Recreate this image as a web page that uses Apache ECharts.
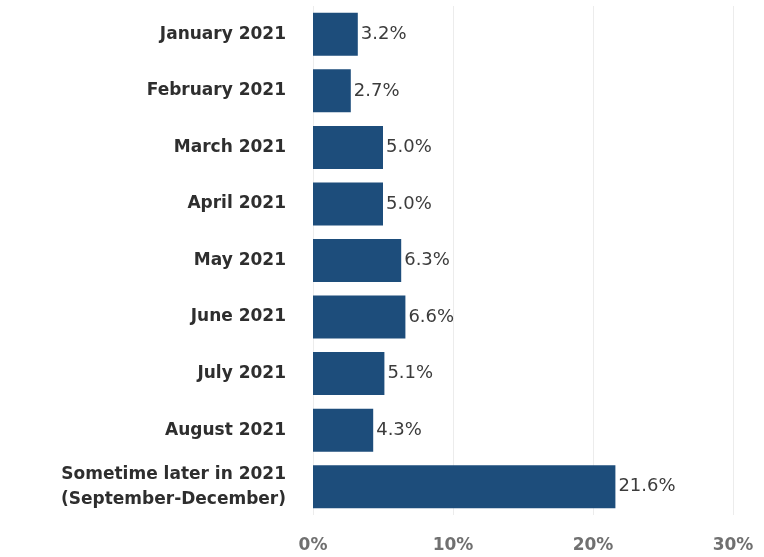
<!DOCTYPE html>
<html>
<head>
<meta charset="utf-8">
<script src="https://cdn.jsdelivr.net/npm/echarts@6/dist/echarts.min.js"></script>
<style>
  html, body { margin: 0; padding: 0; background: #fff; }
  #chart { width: 764px; height: 557px; }
</style>
</head>
<body>
<div id="chart"></div>
<script>
// Month categories, top to bottom
const categories = [
  'January 2021',
  'February 2021',
  'March 2021',
  'April 2021',
  'May 2021',
  'June 2021',
  'July 2021',
  'August 2021',
  'Sometime later in 2021\n(September-December)'
];
// Share of respondents (%)
const values = [3.2, 2.7, 5.0, 5.0, 6.3, 6.6, 5.1, 4.3, 21.6];
// Value axis ticks (%)
const xTicks = [0, 10, 20, 30];

const chart = echarts.init(document.getElementById('chart'));
chart.setOption({
  animation: false,
  grid: { left: 313, right: 31, top: 6, bottom: 42, containLabel: false },
  xAxis: {
    type: 'value',
    min: xTicks[0],
    max: xTicks[xTicks.length - 1],
    interval: 10,
    axisLine: { show: false },
    axisTick: { show: false },
    splitLine: { show: true, lineStyle: { color: '#ececec', width: 1 } },
    axisLabel: {
      formatter: '{value}%',
      color: '#707070',
      fontFamily: 'DejaVu Sans',
      fontSize: 17,
      fontWeight: 'bold',
      margin: 22
    }
  },
  yAxis: {
    type: 'category',
    data: categories,
    inverse: true,
    axisLine: { show: false },
    axisTick: { show: false },
    axisLabel: {
      color: '#2e2e2e',
      fontFamily: 'DejaVu Sans',
      fontSize: 17,
      fontWeight: 'bold',
      margin: 27,
      lineHeight: 25,
      align: 'right'
    }
  },
  series: [{
    type: 'bar',
    data: values,
    barWidth: '76%',
    itemStyle: { color: '#1d4d7b' },
    label: {
      show: true,
      position: 'right',
      distance: 3,
      formatter: p => p.value.toFixed(1) + '%',
      color: '#3c3c3c',
      fontFamily: 'DejaVu Sans',
      fontSize: 18
    }
  }]
});
</script>
</body>
</html>
